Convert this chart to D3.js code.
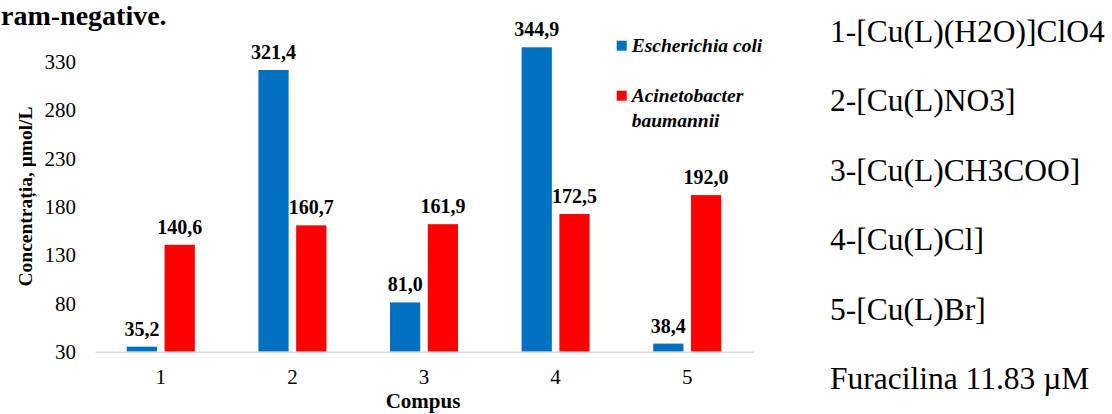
<!DOCTYPE html>
<html>
<head>
<meta charset="utf-8">
<script src="https://cdn.jsdelivr.net/npm/d3@7"></script>
<style>
  html, body { margin: 0; padding: 0; background: #ffffff; }
  svg { display: block; font-family: "Liberation Serif", "Times New Roman", serif; }
</style>
</head>
<body>
<svg id="chart" width="1112" height="414"></svg>
<script>
// Compounds and minimum inhibitory concentrations (µmol/L)
const categories = ["1", "2", "3", "4", "5"];
const seriesNames = ["Escherichia coli", "Acinetobacter baumannii"];
const ecoliValues = [35.2, 321.4, 81.0, 344.9, 38.4];
const acinetoValues = [140.6, 160.7, 161.9, 172.5, 192.0];
const yTicks = [30, 80, 130, 180, 230, 280, 330];
const seriesColors = ["#0070C0", "#FF0000"];
const compoundNotes = [
  "1-[Cu(L)(H2O)]ClO4",
  "2-[Cu(L)NO3]",
  "3-[Cu(L)CH3COO]",
  "4-[Cu(L)Cl]",
  "5-[Cu(L)Br]",
  "Furacilina 11.83 \u00b5M"
];

const svg = d3.select("#chart");
svg.append("rect").attr("width", 1112).attr("height", 414).attr("fill", "#ffffff");

// Plot frame
const plotLeft = 95, plotRight = 753, baseY = 351.7;

const x = d3.scaleBand().domain(categories).range([plotLeft, plotRight]);
const y = d3.scaleLinear().domain([30, 330]).range([baseY, 61.7]);

const groupW = 68;
const xInner = d3.scaleBand().domain(seriesNames).range([0, groupW]).paddingInner(0.2);

const rows = categories.map((c, i) => ({
  cat: c,
  values: [
    { name: seriesNames[0], v: ecoliValues[i], color: seriesColors[0] },
    { name: seriesNames[1], v: acinetoValues[i], color: seriesColors[1] }
  ]
}));

const fmt = v => d3.format(".1f")(v).replace(".", ",");

// Bars
const groups = svg.append("g").selectAll("g")
  .data(rows).join("g")
  .attr("transform", d => `translate(${x(d.cat) + (x.bandwidth() - groupW) / 2},0)`);

groups.selectAll("rect")
  .data(d => d.values).join("rect")
  .attr("x", d => xInner(d.name))
  .attr("width", xInner.bandwidth())
  .attr("y", d => y(d.v))
  .attr("height", d => baseY - y(d.v))
  .attr("fill", d => d.color);

// Value labels
groups.selectAll("text")
  .data(d => d.values).join("text")
  .attr("x", d => xInner(d.name) + xInner.bandwidth() / 2)
  .attr("y", d => y(d.v) - 11)
  .attr("text-anchor", "middle")
  .attr("font-size", 20)
  .attr("font-weight", "bold")
  .attr("fill", "#000")
  .text(d => fmt(d.v));

// X axis
const xAxis = svg.append("g")
  .attr("transform", `translate(0,${baseY})`)
  .call(d3.axisBottom(x).tickSize(0).tickPadding(17));
xAxis.select(".domain").attr("stroke", "#d9d9d9").attr("stroke-width", 1.5);
xAxis.selectAll("text")
  .attr("font-family", "Liberation Serif, serif")
  .attr("font-size", 21).attr("fill", "#000");

// Y axis
const yAxis = svg.append("g")
  .attr("transform", `translate(${plotLeft},0)`)
  .call(d3.axisLeft(y).tickValues(yTicks).tickSize(0).tickPadding(19));
yAxis.select(".domain").remove();
yAxis.selectAll("text")
  .attr("font-family", "Liberation Serif, serif")
  .attr("font-size", 21).attr("fill", "#000");

// Axis titles
svg.append("text")
  .attr("x", (plotLeft + plotRight) / 2 - 1)
  .attr("y", 408)
  .attr("text-anchor", "middle")
  .attr("font-size", 21)
  .attr("font-weight", "bold")
  .text("Compus");

svg.append("text")
  .attr("transform", "translate(32,196.5) rotate(-90)")
  .attr("text-anchor", "middle")
  .attr("font-size", 19.5)
  .attr("font-weight", "bold")
  .text("Concentrația, μmol/L");

// Heading fragment at the top
svg.append("text")
  .attr("x", 1)
  .attr("y", 25)
  .attr("font-size", 28)
  .attr("font-weight", "bold")
  .text("ram-negative.");

// Legend
const legend = svg.append("g");
const legendItems = [
  { lines: ["Escherichia coli"], color: seriesColors[0], top: 40.7 },
  { lines: ["Acinetobacter", "baumannii"], color: seriesColors[1], top: 90.7 }
];
legendItems.forEach(it => {
  legend.append("rect")
    .attr("x", 616.7).attr("y", it.top)
    .attr("width", 10).attr("height", 10)
    .attr("fill", it.color);
  it.lines.forEach((ln, j) => {
    legend.append("text")
      .attr("x", 631.7)
      .attr("y", it.top + 11.3 + j * 25)
      .attr("font-size", 19.5)
      .attr("font-weight", "bold")
      .attr("font-style", "italic")
      .text(ln);
  });
});

// Compound notes on the right
svg.append("g").selectAll("text")
  .data(compoundNotes).join("text")
  .attr("x", 830)
  .attr("y", (d, i) => 42 + i * 69.4)
  .attr("font-size", 31.5)
  .attr("fill", "#000")
  .text(d => d);
</script>
</body>
</html>
